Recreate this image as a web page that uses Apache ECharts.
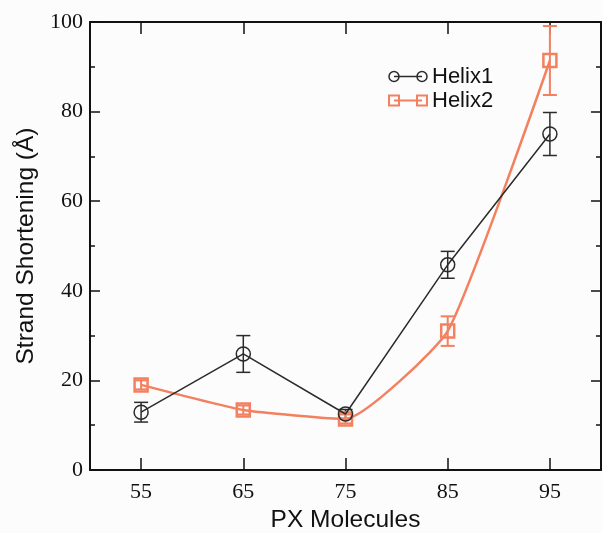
<!DOCTYPE html>
<html>
<head>
<meta charset="utf-8">
<script src="https://cdn.jsdelivr.net/npm/echarts@6/dist/echarts.min.js"></script>
<style>
html,body{margin:0;padding:0;background:#fcfcfd;}
#chart{width:602px;height:533px;}
</style>
</head>
<body>
<div id="chart"></div>
<script>
// Data
var pxMolecules = [55, 65, 75, 85, 95];
var helix1 = [12.9, 25.9, 12.5, 45.8, 75.0];
var helix1Err = [2.2, 4.1, 1.0, 3.0, 4.8];
var helix2 = [19.0, 13.4, 11.4, 31.0, 91.4];
var helix2Err = [1.0, 1.0, 1.0, 3.3, 7.7];
var xTicks = [55, 65, 75, 85, 95];
var seriesNames = ['Helix1', 'Helix2'];

var c1 = '#2b2b2b';
var c2 = '#f3805f';

function pairs(ys) { return pxMolecules.map(function (x, i) { return [x, ys[i]]; }); }
function errData(ys, es) { return pxMolecules.map(function (x, i) { return [x, ys[i] - es[i], ys[i] + es[i]]; }); }

function errRender(color, width) {
  return function (params, api) {
    var x = api.value(0);
    var lo = api.coord([x, api.value(1)]);
    var hi = api.coord([x, api.value(2)]);
    var hw = 7;
    var st = { stroke: color, lineWidth: width };
    return {
      type: 'group',
      children: [
        { type: 'line', shape: { x1: lo[0], y1: lo[1], x2: hi[0], y2: hi[1] }, style: st },
        { type: 'line', shape: { x1: lo[0] - hw, y1: lo[1], x2: lo[0] + hw, y2: lo[1] }, style: st },
        { type: 'line', shape: { x1: hi[0] - hw, y1: hi[1], x2: hi[0] + hw, y2: hi[1] }, style: st }
      ]
    };
  };
}

var circIcon = 'path://M1,6 A5,5 0 1,0 11,6 A5,5 0 1,0 1,6 Z M6,6 L34,6 M29,6 A5,5 0 1,0 39,6 A5,5 0 1,0 29,6 Z';
var rectIcon = 'path://M1,1 L11,1 L11,11 L1,11 Z M6,6 L34,6 M29,1 L39,1 L39,11 L29,11 Z';

var serifFont = '"Liberation Serif", "Times New Roman", serif';
var sansFont = '"Liberation Sans", Arial, sans-serif';

var axisLine = { show: true, onZero: false, lineStyle: { color: '#111', width: 2 } };

var chart = echarts.init(document.getElementById('chart'));
chart.setOption({
  backgroundColor: '#fcfcfd',
  animation: false,
  grid: { left: 90, right: 1, top: 22, bottom: 63, containLabel: false, outerBoundsMode: 'none' },
  legend: {
    orient: 'vertical',
    left: 383,
    top: 60,
    itemWidth: 38,
    itemHeight: 12,
    itemGap: 1,
    textStyle: { fontFamily: sansFont, fontSize: 22, color: '#111', lineHeight: 23 },
    data: [
      { name: seriesNames[0], icon: circIcon, itemStyle: { color: 'transparent', borderColor: c1, borderWidth: 1.5 } },
      { name: seriesNames[1], icon: rectIcon, itemStyle: { color: 'transparent', borderColor: c2, borderWidth: 2 } }
    ]
  },
  xAxis: [
    {
      type: 'value', min: 50, max: 100, position: 'bottom',
      name: 'PX Molecules', nameLocation: 'middle', nameGap: 36,
      nameTextStyle: { fontFamily: sansFont, fontSize: 24.5, color: '#111' },
      axisLine: axisLine,
      axisTick: { show: true, inside: true, length: 12, customValues: xTicks, lineStyle: { color: '#111', width: 1.5 } },
      axisLabel: { show: true, customValues: xTicks, fontFamily: serifFont, fontSize: 22, color: '#111', margin: 11 },
      splitLine: { show: false }
    },
    {
      type: 'value', min: 50, max: 100, position: 'top',
      axisLine: axisLine,
      axisTick: { show: true, inside: true, length: 12, customValues: xTicks, lineStyle: { color: '#111', width: 1.5 } },
      axisLabel: { show: false },
      splitLine: { show: false }
    }
  ],
  yAxis: [
    {
      type: 'value', min: 0, max: 100, interval: 20, position: 'left',
      name: 'Strand Shortening (Å)', nameLocation: 'middle', nameGap: 50,
      nameTextStyle: { fontFamily: sansFont, fontSize: 24.5, color: '#111' },
      axisLine: axisLine,
      axisTick: { show: true, inside: true, length: 10, lineStyle: { color: '#111', width: 1.5 } },
      minorTick: { show: true, splitNumber: 2, length: 5, lineStyle: { color: '#111', width: 1.5 } },
      axisLabel: { fontFamily: serifFont, fontSize: 22, color: '#111', margin: 7 },
      splitLine: { show: false }
    },
    {
      type: 'value', min: 0, max: 100, interval: 20, position: 'right',
      axisLine: axisLine,
      axisTick: { show: true, inside: true, length: 10, lineStyle: { color: '#111', width: 1.5 } },
      minorTick: { show: true, splitNumber: 2, length: 5, lineStyle: { color: '#111', width: 1.5 } },
      axisLabel: { show: false },
      splitLine: { show: false }
    }
  ],
  series: [
    {
      name: seriesNames[0] + ' err', type: 'custom', xAxisIndex: 0, yAxisIndex: 0,
      renderItem: errRender(c1, 1.5), data: errData(helix1, helix1Err), z: 3, silent: true
    },
    {
      name: seriesNames[1] + ' err', type: 'custom', xAxisIndex: 0, yAxisIndex: 0,
      renderItem: errRender(c2, 2), data: errData(helix2, helix2Err), z: 3, silent: true
    },
    {
      name: seriesNames[1], type: 'line', data: pairs(helix2), smooth: 0.15,
      symbol: 'rect', symbolSize: 13,
      lineStyle: { color: c2, width: 2.5 },
      itemStyle: { color: 'transparent', borderColor: c2, borderWidth: 2.5 },
      z: 4
    },
    {
      name: seriesNames[0], type: 'line', data: pairs(helix1),
      symbol: 'circle', symbolSize: 14,
      lineStyle: { color: c1, width: 1.5 },
      itemStyle: { color: 'transparent', borderColor: c1, borderWidth: 1.5 },
      z: 5
    }
  ]
});
</script>
</body>
</html>
